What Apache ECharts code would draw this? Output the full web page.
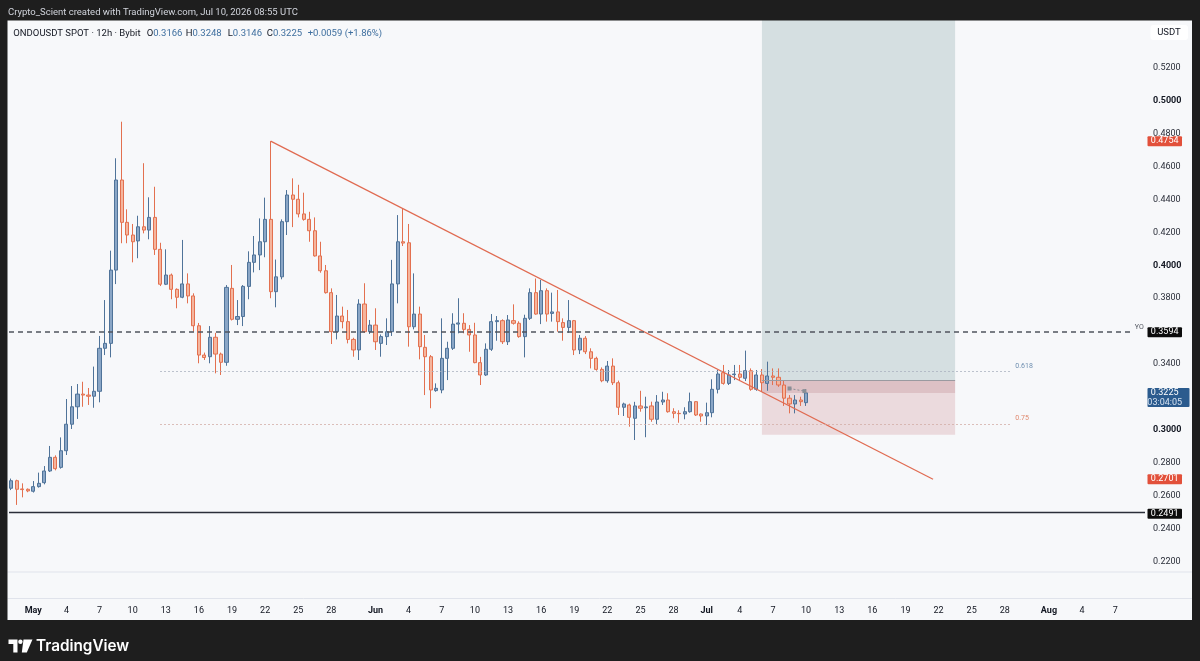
<!DOCTYPE html>
<html><head><meta charset="utf-8">
<script src="https://cdn.jsdelivr.net/npm/echarts@6/dist/echarts.min.js"></script>
<style>html,body{margin:0;padding:0;background:#1e1e1e;}#c{width:1200px;height:661px;}</style>
</head><body><div id="c"></div>
<script>
// 12h candles; slot 0 = May 1 00:00 UTC, first candle at slot -4 (Apr 29 00:00)
const startSlot = -4;
const opens = [
.2646,.2692,.2642,.2640,.2628,.2656,.2680,.2751,.2834,.2773,
.2874,.3035,.3141,.3218,.3212,.3205,.3235,.3496,.3526,.3971,
.4518,.4261,.4184,.4148,.4234,.4214,.4291,.4097,.3885,.3941,
.3854,.3806,.3887,.3814,.3633,.3455,.3445,.3563,.3461,.3411,
.3860,.3672,.3689,.3872,.4018,.4063,.4143,.4279,.3840,.3930,
.4265,.4427,.4401,.4312,.4279,.4210,.4057,.3967,.3834,.3597,
.3692,.3658,.3550,.3486,.3765,.3597,.3637,.3526,.3567,.3597,
.3887,.4143,.4137,.3627,.3704,.3502,.3445,.3239,.3243,.3435,
.3496,.3643,.3648,.3611,.3577,.3409,.3334,.3490,.3658,.3664,
.3536,.3664,.3648,.3567,.3678,.3834,.3704,.3846,.3708,.3717,
.3652,.3623,.3664,.3486,.3557,.3475,.3435,.3368,.3299,.3388,
.3287,.3138,.3152,.3071,.3146,.3135,.3146,.3065,.3170,.3182,
.3111,.3101,.3097,.3111,.3172,.3097,.3085,.3105,.3247,.3348,
.3283,.3336,.3340,.3314,.3360,.3247,.3334,.3283,.3328,.3320,
.3273,.3193,.3158,.3182,.3166];
const highs = [
.2705,.2698,.2676,.2645,.2690,.2741,.2781,.2903,.2846,.2955,
.3188,.3267,.3279,.3293,.3255,.3385,.3571,.3789,.4089,.4650,
.4872,.4340,.4251,.4301,.4620,.4413,.4477,.4137,.4097,.3950,
.3860,.4154,.3951,.3830,.3650,.3470,.3631,.3590,.3470,.3880,
.4002,.3789,.3880,.4085,.4178,.4285,.4411,.4754,.4035,.4279,
.4457,.4528,.4489,.4441,.4325,.4291,.4143,.4002,.3860,.3820,
.3749,.3729,.3560,.3794,.3891,.3668,.3739,.3580,.3678,.4033,
.4305,.4346,.4251,.3951,.3749,.3577,.3455,.3283,.3678,.3536,
.3709,.3800,.3709,.3637,.3651,.3444,.3526,.3704,.3692,.3672,
.3698,.3763,.3660,.3700,.3860,.3920,.3911,.3860,.3834,.3850,
.3678,.3789,.3668,.3577,.3570,.3496,.3445,.3380,.3419,.3435,
.3300,.3166,.3160,.3171,.3238,.3202,.3172,.3212,.3232,.3223,
.3132,.3120,.3138,.3227,.3175,.3100,.3166,.3308,.3364,.3395,
.3364,.3395,.3395,.3482,.3374,.3364,.3370,.3415,.3374,.3374,
.3299,.3212,.3212,.3202,.3248];
const lows = [
.2635,.2545,.2591,.2622,.2620,.2650,.2670,.2745,.2755,.2765,
.2848,.3006,.3067,.3141,.3152,.3135,.3168,.3455,.3441,.3886,
.4134,.4134,.4018,.4043,.4194,.4158,.4063,.3874,.3880,.3794,
.3739,.3800,.3769,.3597,.3405,.3425,.3405,.3344,.3334,.3390,
.3665,.3637,.3631,.3794,.3957,.3971,.4049,.3800,.3745,.3915,
.4184,.4232,.4291,.4271,.4143,.4053,.3955,.3828,.3522,.3550,
.3617,.3526,.3445,.3425,.3590,.3583,.3486,.3445,.3516,.3571,
.3769,.4117,.3506,.3611,.3429,.3212,.3132,.3232,.3223,.3303,
.3486,.3587,.3587,.3475,.3405,.3273,.3328,.3480,.3542,.3522,
.3516,.3640,.3560,.3441,.3668,.3700,.3643,.3658,.3658,.3597,
.3542,.3590,.3455,.3461,.3461,.3374,.3360,.3290,.3287,.3273,
.3091,.3085,.3020,.2939,.3111,.2956,.3050,.3036,.3152,.3105,
.3071,.3044,.3065,.3105,.3085,.3050,.3030,.3077,.3222,.3275,
.3273,.3303,.3297,.3297,.3238,.3238,.3232,.3238,.3273,.3262,
.3146,.3101,.3101,.3146,.3146];
const closes = [
.2692,.2640,.2638,.2630,.2656,.2676,.2751,.2834,.2765,.2874,
.3035,.3141,.3218,.3212,.3205,.3235,.3496,.3526,.3971,.4518,
.4261,.4184,.4143,.4234,.4214,.4291,.4097,.3885,.3941,.3854,
.3806,.3887,.3814,.3633,.3455,.3440,.3563,.3461,.3411,.3866,
.3672,.3689,.3872,.4018,.4063,.4143,.4279,.3840,.3930,.4265,
.4427,.4401,.4312,.4279,.4210,.4057,.3967,.3834,.3597,.3692,
.3658,.3550,.3486,.3765,.3597,.3637,.3536,.3567,.3597,.3887,
.4143,.4135,.3627,.3704,.3506,.3445,.3243,.3253,.3435,.3496,
.3643,.3650,.3611,.3577,.3409,.3334,.3490,.3658,.3664,.3536,
.3668,.3648,.3567,.3678,.3834,.3704,.3846,.3704,.3717,.3658,
.3623,.3664,.3486,.3557,.3475,.3435,.3368,.3299,.3388,.3287,
.3138,.3158,.3077,.3146,.3132,.3140,.3065,.3170,.3182,.3111,
.3101,.3099,.3111,.3172,.3091,.3085,.3105,.3247,.3340,.3283,
.3334,.3340,.3320,.3360,.3247,.3334,.3287,.3328,.3320,.3273,
.3193,.3158,.3182,.3172,.3225];

// time axis ticks (days since May 1)
const timeTickDays   = [0,3,6,9,12,15,18,21,24,27,31,34,37,40,43,46,49,52,55,58,61,64,67,70,73,76,79,82,85,88,92,95,98];
const timeTickLabels = ['May','4','7','10','13','16','19','22','25','28','Jun','4','7','10','13','16','19','22','25','28','Jul','4','7','10','13','16','19','22','25','28','Aug','4','7'];
const priceTicks = [0.22,0.24,0.26,0.28,0.30,0.34,0.38,0.40,0.42,0.44,0.46,0.48,0.50,0.52];

// drawings (day, price)
const trendLine = [[21.5, 0.4754],[81.5, 0.2701]];
const projection = [[68.5, 0.3252],[69.85, 0.3236]];
const yearOpen = 0.3594, yoEndDay = 99.6;
const supportLevel = 0.2491;
const fibLevels = [{name:'0.618', price:0.3354},{name:'0.75', price:0.3035}];
const fibStartDay = 11.5, fibEndDay = 88.5;
const position = {startDay:66, endDay:83.5, entry:0.3300, stop:0.2971, current:0.3225};
const lastPrice = 0.3225, countdown = '03:04:05';
const legendChange = '+0.0059 (+1.86%)';

const xView = [-2.201, 100.70];
const yView = [0.19797, 0.54897];

const candleData = opens.map((o,i)=>[(startSlot+i)/2, o, closes[i], lows[i], highs[i]]);
const FONT = 'Roboto';

const chart = echarts.init(document.getElementById('c'));
chart.setOption({
  animation:false,
  backgroundColor:'#f7f8fa',
  grid:{left:9, top:20, right:55, bottom:63},
  xAxis:{type:'value', min:xView[0], max:xView[1],
    axisLine:{show:false}, axisTick:{show:false}, splitLine:{show:false},
    axisLabel:{customValues:timeTickDays, margin:8, color:'#131722', fontSize:9, fontFamily:FONT,
      formatter:(v)=>{const i=timeTickDays.findIndex(d=>Math.abs(d-v)<1e-6); const t=timeTickLabels[i]||''; return isNaN(+t)?'{b|'+t+'}':t;},
      rich:{b:{fontWeight:'bold', fontSize:9, color:'#131722', fontFamily:FONT}}}},
  yAxis:{type:'value', position:'right', min:yView[0], max:yView[1], scale:true,
    axisLine:{show:false}, axisTick:{show:false}, splitLine:{show:false},
    axisLabel:{customValues:priceTicks, margin:8, color:'#2a2e39', fontSize:9, fontFamily:FONT,
      formatter:(v)=>{const s=v.toFixed(4); return Math.abs(v*10-Math.round(v*10))<1e-6?'{b|'+s+'}':s;},
      rich:{b:{fontWeight:'bold', fontSize:9, color:'#131722', fontFamily:FONT}}}},
  series:[
    {type:'candlestick', name:'ONDOUSDT', data:candleData, encode:{x:0,y:[1,2,3,4]}, barWidth:3.6, z:3,
     itemStyle:{color:'#8aa6c6', color0:'#f5b59d', borderColor:'#4f7399', borderColor0:'#e3704f', borderWidth:1},
     markArea:{silent:true, data:[
       [{coord:[position.startDay, position.entry], itemStyle:{color:'#d5dfe1'}},{coord:[position.endDay, yView[1]]}],
       [{coord:[position.startDay, position.current], itemStyle:{color:'#ddc1c5'}},{coord:[position.endDay, position.entry]}],
       [{coord:[position.startDay, position.stop], itemStyle:{color:'#ebdadd'}},{coord:[position.endDay, position.current]}]
     ]},
     markLine:{silent:true, symbol:['none','none'], label:{show:false}, data:[
       [{coord:[xView[0], yearOpen], lineStyle:{type:[5,4], color:'#50545e', width:1.5}},{coord:[yoEndDay, yearOpen]}],
       {yAxis:supportLevel, lineStyle:{type:'solid', color:'#2a2e39', width:1.3}},
       [{coord:[position.startDay, position.entry], lineStyle:{type:'solid', color:'#9a9aa0', width:1}},{coord:[position.endDay, position.entry]}],
       [{coord:[fibStartDay, fibLevels[0].price], lineStyle:{type:[1.5,2.5], color:'#a9b1be', width:1}},{coord:[fibEndDay, fibLevels[0].price]}],
       [{coord:[fibStartDay, fibLevels[1].price], lineStyle:{type:[1.5,2.5], color:'#d2aba3', width:1}},{coord:[fibEndDay, fibLevels[1].price]}]
     ]}
    },
    {type:'line', name:'trend', data:trendLine, symbol:'none', z:4, silent:true,
     lineStyle:{color:'#e06a50', width:1.2}},
    {type:'line', name:'projection', data:projection, symbol:['none','arrow'], symbolSize:4, z:4, silent:true,
     lineStyle:{color:'#8a8e96', width:1, type:[2,2]}, itemStyle:{color:'#8a8e96'}}
  ]
});

function P(d,p){return chart.convertToPixel({gridIndex:0},[d,p]);}
function py(p){return P(0,p)[1];}
function box(price, text, bg, w, h, txt2){
  const y = py(price);
  const els = [{type:'rect', z:200, shape:{x:1147.5, y:y-5, width:w, height:h, r:1}, style:{fill:bg}},
    {type:'text', z:201, style:{x:1164.7, y:y, text:text, fill:'#ffffff', font:'9px '+FONT, align:'center', verticalAlign:'middle'}}];
  if(txt2) els.push({type:'text', z:201, style:{x:1164.7, y:y+9.5, text:txt2, fill:'#d6e2f0', font:'9px '+FONT, align:'center', verticalAlign:'middle'}});
  return els;
}
function ohlc(k, v, x){
  return {type:'text', z:160, style:{x:x, y:33.5, text:'{k|'+k+'}{v|'+v.toFixed(4)+'}', verticalAlign:'middle',
    rich:{k:{fill:'#131722',font:'9.5px '+FONT},v:{fill:'#3f6f9f',font:'9.5px '+FONT}}}};
}
const last = opens.length-1;
const f0 = P(fibEndDay, fibLevels[0].price), f1 = P(fibEndDay, fibLevels[1].price);
const yo = P(yoEndDay, yearOpen);
const g = [
  // dark frame
  {type:'rect', z:150, shape:{x:0,y:0,width:1200,height:20.5}, style:{fill:'#1e1e1e'}},
  {type:'rect', z:150, shape:{x:0,y:620,width:1200,height:41}, style:{fill:'#1e1e1e'}},
  {type:'rect', z:150, shape:{x:0,y:0,width:7.5,height:661}, style:{fill:'#1e1e1e'}},
  {type:'rect', z:150, shape:{x:1192,y:0,width:8,height:661}, style:{fill:'#1e1e1e'}},
  // pane separators
  {type:'line', z:10, shape:{x1:7.5,y1:572,x2:1192,y2:572}, style:{stroke:'#e0e3eb', lineWidth:1}},
  {type:'line', z:10, shape:{x1:7.5,y1:598.5,x2:1192,y2:598.5}, style:{stroke:'#e0e3eb', lineWidth:1}},
  // header
  {type:'text', z:160, style:{x:8, y:13, text:'Crypto_Scient created with TradingView.com, Jul 10, 2026 08:55 UTC', fill:'#d1d4dc', font:'9.5px '+FONT, verticalAlign:'middle'}},
  // legend
  {type:'text', z:160, style:{x:13.3, y:33.5, text:'ONDOUSDT SPOT · 12h · Bybit', fill:'#131722', font:'9.5px '+FONT, verticalAlign:'middle'}},
  ohlc('O', opens[last], 146.7), ohlc('H', highs[last], 185.7), ohlc('L', lows[last], 227.7), ohlc('C', closes[last], 266.7),
  {type:'text', z:160, style:{x:307.7, y:33.5, text:legendChange, fill:'#3f6f9f', font:'9.5px '+FONT, verticalAlign:'middle'}},
  // USDT box
  {type:'rect', z:160, shape:{x:1150.5,y:25,width:37.5,height:15,r:3}, style:{fill:'#ffffff'}},
  {type:'text', z:161, style:{x:1169, y:32.5, text:'USDT', fill:'#131722', font:'9.5px '+FONT, align:'center', verticalAlign:'middle'}},
  // fib labels, YO
  {type:'text', z:20, style:{x:f0[0]+5, y:f0[1]-5.5, text:fibLevels[0].name, fill:'#6f8fb0', font:'7px '+FONT, verticalAlign:'middle'}},
  {type:'text', z:20, style:{x:f1[0]+5, y:f1[1]-5.5, text:fibLevels[1].name, fill:'#e08a70', font:'7px '+FONT, verticalAlign:'middle'}},
  {type:'text', z:20, style:{x:yo[0]+2, y:yo[1]-5, text:'YO', fill:'#50545e', font:'7px '+FONT, verticalAlign:'middle'}},
  // logo
  {type:'polygon', z:160, shape:{points:[[8.5,639.5],[17.5,639.5],[17.5,652.5],[13.3,652.5],[13.3,644],[8.5,644]]}, style:{fill:'#ffffff'}},
  {type:'circle', z:160, shape:{cx:20.4, cy:641.8, r:2.2}, style:{fill:'#ffffff'}},
  {type:'polygon', z:160, shape:{points:[[23.5,639.5],[32.5,639.5],[26.8,652.5],[21.8,652.5]]}, style:{fill:'#ffffff'}},
  {type:'text', z:160, style:{x:36, y:646, text:'TradingView', fill:'#ffffff', font:'600 15.3px Inter', verticalAlign:'middle'}}
].concat(
  box(trendLine[0][1], trendLine[0][1].toFixed(4), '#e2503a', 34.5, 10),
  box(yearOpen, yearOpen.toFixed(4), '#0c0c0c', 34.5, 10),
  box(trendLine[1][1], trendLine[1][1].toFixed(4), '#e2503a', 34.5, 10),
  box(supportLevel, supportLevel.toFixed(4), '#0c0c0c', 34.5, 10),
  box(lastPrice, lastPrice.toFixed(4), '#2b5b8e', 42, 19, countdown)
);
chart.setOption({graphic:g});
</script></body></html>
